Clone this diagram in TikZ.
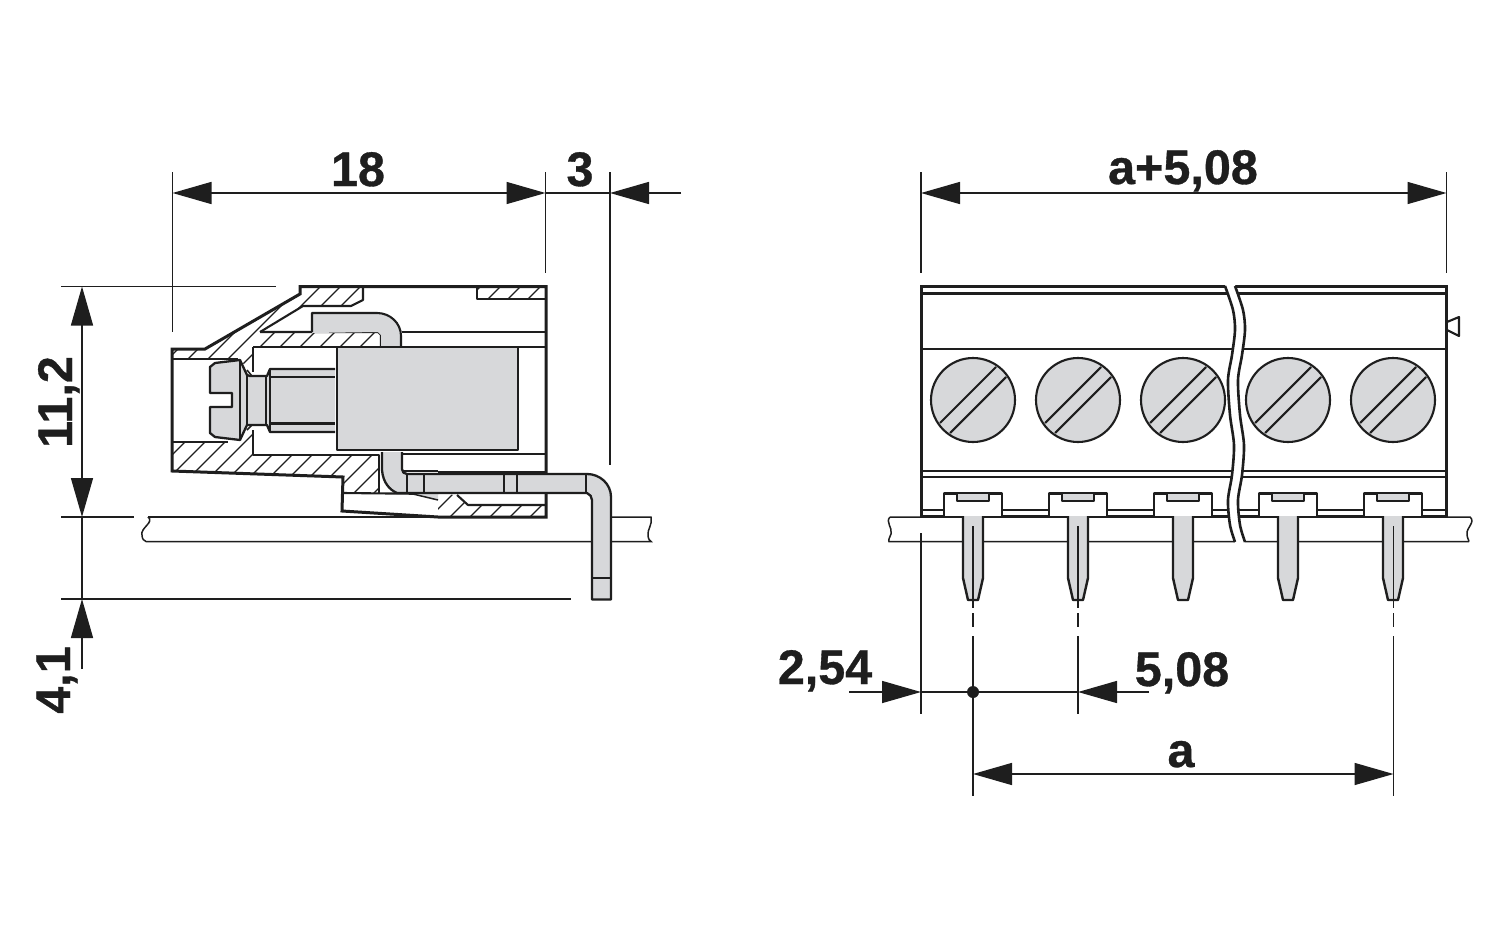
\documentclass[tikz,border=0pt]{standalone}
\usepackage{fontspec}
\setmainfont[BoldFeatures={FakeBold=0.7}]{Liberation Sans}
\usetikzlibrary{arrows.meta,calc}
\definecolor{partgrey}{RGB}{215,216,218}
\definecolor{ink}{RGB}{30,30,30}
\tikzset{
  thickline/.style={draw=ink,line width=3pt,line join=miter},
  midline/.style={draw=ink,line width=2.1pt,line join=round},
  thinline/.style={draw=ink,line width=1.5pt},
  hatchline/.style={draw=ink,line width=1.1pt},
  greypart/.style={fill=partgrey,draw=ink,line width=2.3pt,line join=round},
  dimline/.style={draw=ink,line width=1.5pt},
  dimarrow/.style={dimline,-{Triangle[length=39pt,width=22pt]}},
  dimboth/.style={dimline,{Triangle[length=39pt,width=22pt]}-{Triangle[length=39pt,width=22pt]}},
  dimtext/.style={font=\fontsize{48.5}{48.5}\selectfont\bfseries,text=ink,inner sep=0pt,anchor=base}
}
\newcommand{\hatchfill}[1]{%
  \begin{scope}\clip #1;
    \foreach \i in {407,427,...,1127}{\draw[hatchline] (\i,0)--(\i-600,600);}
  \end{scope}}
\begin{document}
\begin{tikzpicture}[x=1pt,y=-1pt]
\useasboundingbox (0,0) rectangle (1500,937);
\fill[white] (0,0) rectangle (1500,937);

% ---------- LEFT VIEW ----------
% board
\draw[thinline] (148,517) .. controls (155,522) and (140,528) .. (142,535) .. controls (142,539) and (144,541) .. (146,541.5) -- (592,541.5);
\draw[thinline] (148,517)--(546,517);
\draw[thinline] (611,517)--(651,517) .. controls (653,524) and (647,530) .. (648,535) .. controls (648,539) and (650,541) .. (651,541.5) -- (611,541.5);

% hatch areas
\hatchfill{(172,349)--(205,349)--(300,294)--(300,288)--(363,288)--(363,300)--(351,306)--(303,306)--(260,332)--(378,332)--(381,335)--(381,347)--(253,347)--(253,370)--(241,362)--(238,359)--(173,359)--cycle}
\hatchfill{(173,442)--(228,442)--(240,440)--(253,433)--(253,455)--(379,455)--(379,493)--(343,493)--(343,477)--(172,471)--cycle}
\hatchfill{(477,288)--(546,288)--(546,299)--(477,299)--cycle}
\hatchfill{(438,494)--(457,495)--(468,505)--(546,505)--(546,517)--(438,517)--cycle}

% inner lines
\draw[midline] (260,332)--(303,306)--(351,306)--(363,300)--(363,287);
\draw[midline] (260,332)--(378,332)--(381,335)--(381,347);
\draw[midline] (253,347)--(337,347);
\draw[midline] (253,347)--(253,372);
\draw[midline] (253,430)--(253,455)--(379,455)--(379,493);
\draw[midline] (173,359)--(238,359);
\draw[midline] (173,442)--(228,442);
\draw[midline] (343,493)--(438,494);
\draw[midline] (477,287)--(477,299)--(545,299);
\draw[midline] (402,332)--(545,332);
\draw[midline] (401,347)--(545,347);
\draw[midline] (402,454)--(545,454);
\draw[thinline] (403,471)--(438,471);
\draw[midline] (438,472)--(545,472);
\draw[midline] (457,495)--(468,505)--(545,505);

% upper contact
\path[fill=partgrey] (312,333)--(312,313)--(377,313) .. controls (390,313) and (401,323) .. (401,336)--(401,347)--(381,347)--(381,335)--(378,332)--cycle;
\draw[midline] (312,332)--(312,313)--(377,313) .. controls (390,313) and (401,323) .. (401,336)--(401,347);

% block
\draw[greypart] (337,347) rectangle (518,450);

% screw
\draw[greypart] (335,369)--(270,369)--(267,376)--(250,376)--(247,375)--(240,360)--(215,363)--(210,367)--(210,393)--(232,393)--(232,407)--(210,407)--(210,433)--(215,437)--(240,440)--(247,425)--(250,425)--(267,425)--(270,432)--(335,432);
\draw[midline] (247,375)--(247,425) (266,376)--(266,425) (270,369)--(270,432) (270,377)--(335,377) (270,423.5)--(335,423.5);
\draw[midline] (240,360)--(240,440);
\draw[thinline] (247,370)--(252,376) (247,430)--(252,425);

% housing outline
\draw[thickline] (172,349)--(205,349)--(300,294)--(300,286.5)--(546,286.5)--(546,517)--(438,517)--(342,511)--(343,477)--(172,471)--cycle;

% grey wedge and lower contact, in front of the housing wall
\fill[partgrey] (413,494)--(438,500)--(438,494)--cycle;
\draw[thinline] (413,494)--(438,500);
\draw[greypart] (382,452)--(382,470) .. controls (383,483) and (390,490) .. (397,493)--(587,493) .. controls (590,494) and (592,497) .. (592,500)--(592,599.5)--(611,599.5)--(611,497) .. controls (611,484) and (600,474) .. (587,474)--(407,474) .. controls (404,474) and (402,472) .. (402,469)--(402,452);
\draw[midline] (407,474)--(407,493) (424,474)--(424,493) (504,474)--(504,493) (517,474)--(517,493) (586,474)--(586,493);
\draw[thinline] (592,578)--(611,578);

% ---------- RIGHT VIEW ----------
% board
\draw[thinline] (890,517) .. controls (885,522) and (893,528) .. (891,534) .. controls (890,537) and (888,540) .. (889,541.5)--(1469,541.5);
\draw[thinline] (890,517)--(1470,517) .. controls (1476,522) and (1466,528) .. (1467,534) .. controls (1467,538) and (1469,540) .. (1469,541.5);

% body
\draw[thickline] (921,286.5) rectangle (1446.5,516);
\draw[midline] (921,293.5)--(1446,293.5);
\draw[midline] (921,349)--(1446,349);
\draw[midline] (921,471)--(1446,471);
\draw[thickline,line width=2.4pt] (921,477)--(1446,477);
\draw[midline] (921,510)--(1446,510);
\draw[midline] (1447,322)--(1459,317)--(1459,336)--(1447,330);

% screws
\foreach \c/\nm in {973/a,1078/b,1183/c,1288/d,1393/e}{
  \node[circle,draw=ink,line width=2.1pt,fill=partgrey,minimum size=84pt,inner sep=0pt] (screw\nm) at (\c,400) {};
  \draw[midline] (\c+23,400-33)--(\c-33,400+23) (\c+33,400-23)--(\c-23,400+33);
}

% pins and clips
\foreach \c in {973,1078,1183,1288,1393}{
  \fill[partgrey] (\c-10,516)--(\c-10,578)--(\c-5,600)--(\c+5,600)--(\c+10,578)--(\c+10,516)--cycle;
  \draw[midline,line width=2.4pt] (\c-10,516)--(\c-10,578)--(\c-5,600)--(\c+5,600)--(\c+10,578)--(\c+10,516);
  \draw[midline,fill=white] (\c-29,516)--(\c-29,493.5)--(\c+29,493.5)--(\c+29,516);
  \draw[midline,fill=partgrey] (\c-16,494)--(\c-16,501)--(\c+16,501)--(\c+16,494);
}

% break
\fill[white] plot[smooth] coordinates {(1225,285) (1233,310) (1235,330) (1232,355) (1228,380) (1230,415) (1234,445) (1232,475) (1228,500) (1230,525) (1235,543)}
  -- plot[smooth] coordinates {(1245,543) (1240,525) (1238,500) (1242,475) (1244,445) (1240,415) (1238,380) (1242,355) (1245,330) (1243,310) (1235,285)} -- cycle;
\draw[midline,line width=2.6pt] plot[smooth] coordinates {(1225,286) (1233,310) (1235,330) (1232,355) (1228,380) (1230,415) (1234,445) (1232,475) (1228,500) (1230,525) (1235,542)};
\draw[midline,line width=2.6pt] plot[smooth] coordinates {(1235,286) (1243,310) (1245,330) (1242,355) (1238,380) (1240,415) (1244,445) (1242,475) (1238,500) (1240,525) (1245,542)};

% ---------- DIMENSIONS ----------
\coordinate (e18a) at (172.5,172); \coordinate (e18b) at (172.5,332);
\coordinate (e18c) at (545.5,172); \coordinate (e18d) at (545.5,273);
\coordinate (e3a) at (610,172);    \coordinate (e3b) at (610,465);
\coordinate (d18a) at (172.5,193); \coordinate (d18b) at (545.5,193);
\coordinate (d3a) at (610,193);    \coordinate (d3free) at (681,193);
\draw[dimline] (e18a)--(e18b);
\draw[dimline] (e18c)--(e18d);
\draw[dimline] (e3a)--(e3b);
\draw[dimboth] (d18a)--(d18b);
\draw[dimline] (d18b)--(d3a);
\draw[dimarrow] (d3free)--(d3a);
\node[dimtext] (t18) at (358,186) {18};
\node[dimtext] (t3) at (580,186) {3};

\coordinate (h1a) at (61,286.5);  \coordinate (h1b) at (276,286.5);
\coordinate (h2a) at (61,517);    \coordinate (h2b) at (134,517);
\coordinate (h3a) at (61,599);    \coordinate (h3b) at (571,599);
\coordinate (v1) at (82,286.5);   \coordinate (v2) at (82,517);
\coordinate (v3) at (82,599);     \coordinate (v4) at (82,669);
\draw[dimline] (h1a)--(h1b);
\draw[dimline] (h2a)--(h2b);
\draw[dimline] (h3a)--(h3b);
\draw[dimboth] (v1)--(v2);
\draw[dimline] (v2)--(v3);
\draw[dimarrow] (v4)--(v3);
\node[dimtext,rotate=90] (t112) at (72,402) {11,2};
\node[dimtext,rotate=90] (t41) at (70,680) {4,1};

\coordinate (xa) at (921,172);  \coordinate (xb) at (921,273);
\coordinate (xc) at (1446.5,172); \coordinate (xd) at (1446.5,273);
\coordinate (xe) at (921,533);  \coordinate (xf) at (921,714);
\coordinate (ya) at (921,193);  \coordinate (yb) at (1446.5,193);
\draw[dimline] (xa)--(xb);
\draw[dimline] (xc)--(xd);
\draw[dimline] (xe)--(xf);
\draw[dimboth] (ya)--(yb);
\node[dimtext] (ta508) at (1183,184) {a+5,08};

\coordinate (p1) at (973,636);  \coordinate (p1b) at (973,796);
\coordinate (p2) at (1078,636); \coordinate (p2b) at (1078,714);
\coordinate (p3) at (1393.5,636); \coordinate (p3b) at (1393.5,796);
\coordinate (p1t) at (973,526); \coordinate (p1m) at (973,608);
\coordinate (p2t) at (1078,526); \coordinate (p2m) at (1078,608);
\coordinate (p3t) at (1393.5,526); \coordinate (p3m) at (1393.5,608);
\foreach \n in {1,2,3}{
  \draw[dimline] (p\n)--(p\n b);
  \draw[dimline] (p\n t)--(p\n m);
  \draw[dimline] ($(p\n t)+(0,87)$)--($(p\n t)+(0,101)$);
}
\coordinate (l1) at (849,692); \coordinate (l2) at (921,692);
\coordinate (l3) at (1078,692); \coordinate (l4) at (1149,692);
\draw[dimarrow] (l1)--(l2);
\draw[dimline] (l2)--(l3);
\draw[dimarrow] (l4)--(l3);
\node[circle,fill=ink,minimum size=12pt,inner sep=0pt] (dot) at (973,692) {};
\node[dimtext] (t254) at (825,684) {2,54};
\node[dimtext] (t508) at (1182,686) {5,08};
\coordinate (a1) at (973,774); \coordinate (a2) at (1393.5,774);
\draw[dimboth] (a1)--(a2);
\node[dimtext] (ta) at (1181,767) {a};
\end{tikzpicture}
\end{document}
